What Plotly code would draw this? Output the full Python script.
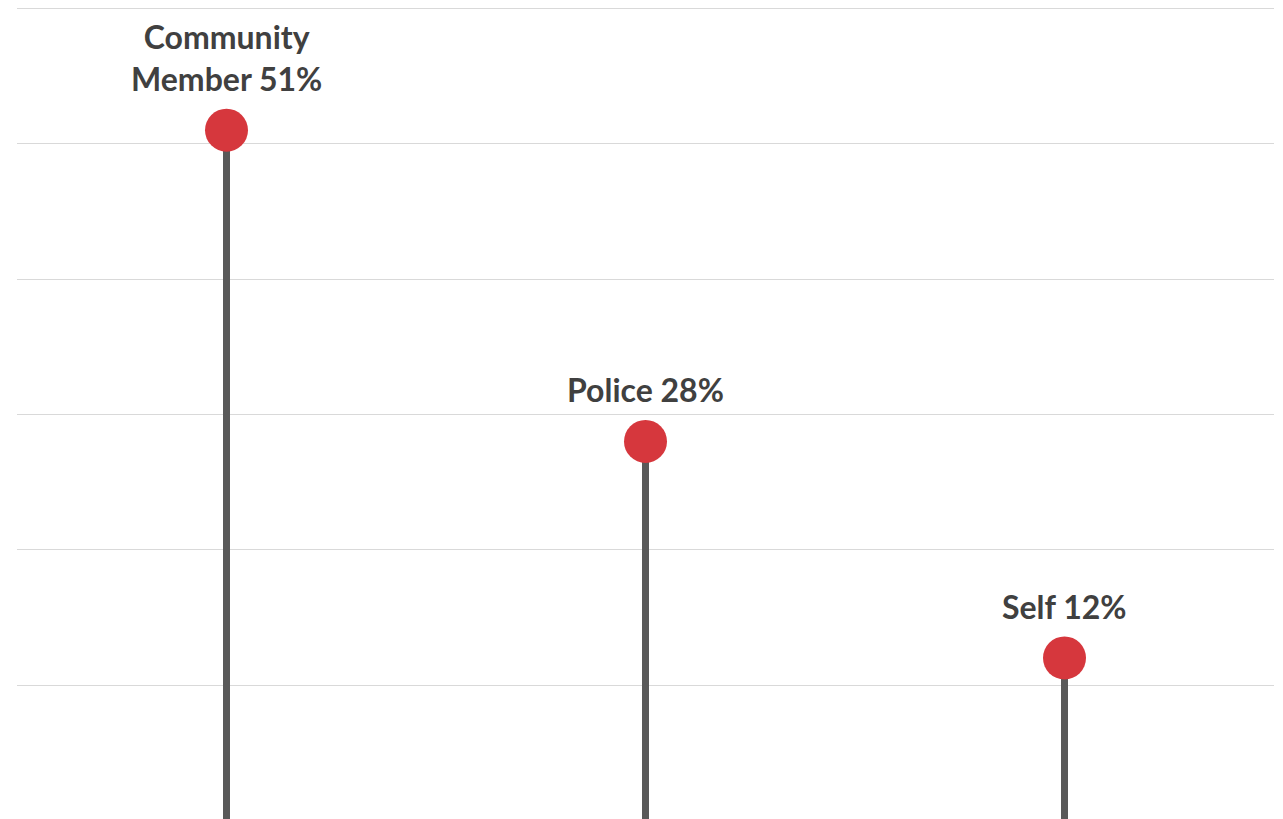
import plotly.graph_objects as go

# Share of cases by who initiated contact
categories = ["Community Member", "Police", "Self"]
values = [51, 28, 12]
labels = ["Community<br>Member 51%", "Police 28%", "Self 12%"]

STEM = "#595959"
DOT = "#D6373D"
TEXT = "#404040"
GRID = "#D9D9D9"

fig = go.Figure()

# Lollipop stems from zero up to each value
for cat, v in zip(categories, values):
    fig.add_trace(go.Scatter(
        x=[cat, cat], y=[0, v], mode="lines",
        line=dict(color=STEM, width=7), hoverinfo="skip", showlegend=False,
    ))

# Lollipop heads
fig.add_trace(go.Scatter(
    x=categories, y=values, mode="markers",
    marker=dict(color=DOT, size=43, line=dict(width=0)),
    showlegend=False,
))

for cat, v, lab in zip(categories, values, labels):
    fig.add_annotation(
        x=cat, y=v, text=lab, showarrow=False,
        yanchor="bottom", yshift=30,
        font=dict(family="Lato", size=32, color=TEXT, weight="bold"),
        align="center",
    )

fig.update_layout(
    width=1283, height=819,
    margin=dict(l=17, r=9, t=7, b=0),
    paper_bgcolor="white", plot_bgcolor="white",
    xaxis=dict(type="category", range=[-0.5, 2.5], showgrid=False,
               showticklabels=False, zeroline=False, showline=False),
    yaxis=dict(range=[0.1, 60.1], dtick=10, tick0=0, showgrid=True,
               gridcolor=GRID, gridwidth=1.3, showticklabels=False,
               zeroline=False, showline=False),
)

fig.write_html("out.html")
